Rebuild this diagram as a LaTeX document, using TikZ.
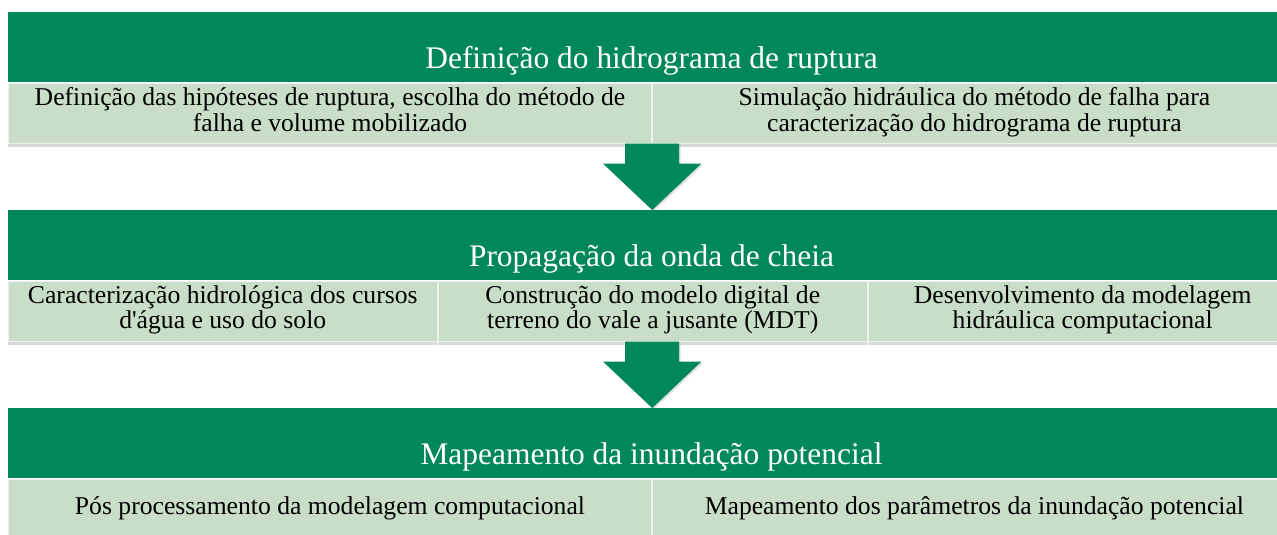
\documentclass[tikz,border=0pt]{standalone}
\usepackage{fontspec}
\setmainfont{Liberation Serif}
\usepackage{xcolor}
\usepackage{tikz}
\usetikzlibrary{positioning}
\usetikzlibrary{shadows}
\usetikzlibrary{calc}

\definecolor{stepgreen}{RGB}{0,135,92}
\definecolor{steplight}{RGB}{201,222,201}

\begin{document}
\begin{tikzpicture}[x=0.02cm, y=-0.02cm,
    head/.style={fill=stepgreen, text=white, inner xsep=0pt, inner ysep=0pt,
minimum width=25.74cm, text height=1.12cm, text depth=0.28cm,
font=\fontsize{17.9}{20}\selectfont},
    cell/.style={fill=steplight, draw=white!65!steplight, line width=0.6pt,
align=center, inner sep=0pt, minimum height=1.2cm,
font=\fontsize{14.6}{14.3}\selectfont,
execute at begin node=\strut, execute at end node=\strut,
drop shadow={shadow xshift=0pt, shadow yshift=-0.07cm, opacity=0.3}},
    half/.style={cell, minimum width=12.87cm},
    third/.style={cell, minimum width=8.58cm},
    flow/.style={fill=stepgreen,
drop shadow={shadow xshift=0.03cm, shadow yshift=-0.03cm, opacity=0.25}}]
\useasboundingbox (0,0) rectangle (1277,534);

% stage headers
\node[head] (ruptura) [anchor=north] at (651.5,12) {Definição do hidrograma de ruptura};
\node[head] (cheia) [anchor=north] at (651.5,210) {Propagação da onda de cheia};
\node[head] (mapa) [anchor=north] at (651.5,408) {Mapeamento da inundação potencial};

% stage tasks
\node[half] (hipo) [below right=0pt and 0pt of ruptura.south west]
  {Definição das hipóteses de ruptura, escolha do método de\\falha e volume mobilizado};
\node[half] (simul) [right=0pt of hipo]
  {Simulação hidráulica do método de falha para\\caracterização do hidrograma de ruptura};
\node[third] (carac) [below right=0pt and 0pt of cheia.south west]
  {Caracterização hidrológica dos cursos\\d\textquotesingle água e uso do solo};
\node[third] (mdt) [right=0pt of carac]
  {Construção do modelo digital de\\terreno do vale a jusante (MDT)};
\node[third] (modelo) [right=0pt of mdt]
  {Desenvolvimento da modelagem\\hidráulica computacional};
\node[half] (pos) [below right=0pt and 0pt of mapa.south west]
  {Pós processamento da modelagem computacional};
\node[half] (param) [right=0pt of pos]
  {Mapeamento dos parâmetros da inundação potencial};

% block arrows
\coordinate (a1) at (hipo.south east);
\coordinate (a2) at (hipo.south east |- mdt.south);
\fill[flow] ($(a1)+(-27,0)$) -- ++(0,20) -- ++(-22,0) -- (cheia.north -| a1)
  -- ($(a1)+(49,20)$) -- ++(-22,0) -- ++(0,-20) -- cycle;
\fill[flow] ($(a2)+(-27,0)$) -- ++(0,20) -- ++(-22,0) -- (mapa.north -| a2)
  -- ($(a2)+(49,20)$) -- ++(-22,0) -- ++(0,-20) -- cycle;
\end{tikzpicture}
\end{document}
